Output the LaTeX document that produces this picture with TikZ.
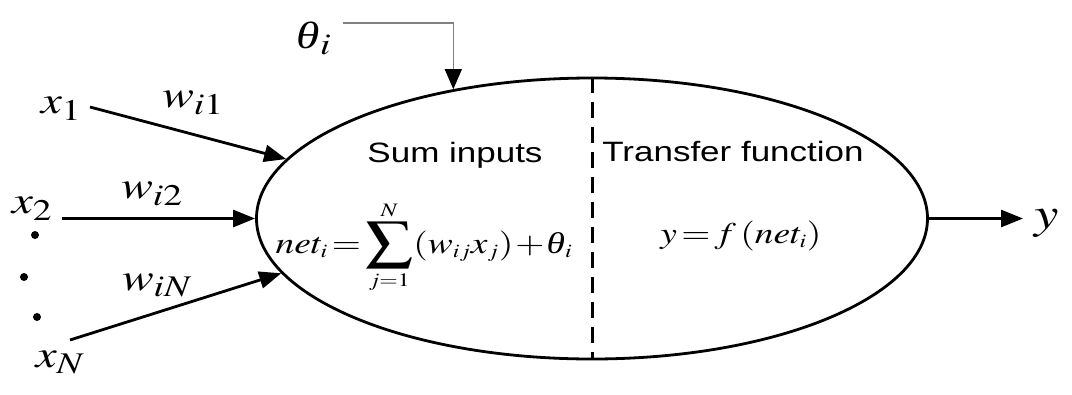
\documentclass[tikz,border=0pt]{standalone}
\usepackage{mathptmx}
\usepackage{graphicx}
\usepackage[no-math]{fontspec}
\setmainfont{Liberation Serif}
\setsansfont{Liberation Sans}
\usetikzlibrary{arrows.meta,shapes.geometric}
\DeclareMathSizes{38}{38}{30}{24}
\DeclareMathSizes{44}{44}{34}{26}
\DeclareMathSizes{30}{30}{19}{15}
\newcommand\itheta{\mbox{\itshape θ}}
\newcommand\bigsum{\mathop{\vcenter{\hbox{\scalebox{1.25}{$\displaystyle\sum$}}}}\limits}
\begin{document}
\begin{tikzpicture}[x=1pt,y=-1pt,
  lab/.style={anchor=base, xscale=1.25, inner sep=0pt, font=\fontsize{38}{42}\selectfont},
  outlab/.style={anchor=base, xscale=1.25, inner sep=0pt, font=\fontsize{44}{48}\selectfont},
  formula/.style={anchor=base, xscale=1.25, inner sep=0pt, font=\fontsize{30}{34}\selectfont},
  caption/.style={anchor=base, xscale=1.25, inner sep=0pt, font=\fontsize{28}{32}\selectfont\sffamily},
  cellshape/.style={ellipse, draw, line width=2.8pt, minimum width=671pt, minimum height=281pt, inner sep=0pt},
  divider/.style={line width=3pt, dash pattern=on 16pt off 9pt},
  wire/.style={line width=2.8pt, -{Triangle[length=22pt,width=17pt]}},
  biasline/.style={line width=1.2pt, gray, -{Triangle[length=20pt,width=17pt,color=black]}},
  dotmark/.style={circle, fill, inner sep=0pt, minimum size=8pt}]
\useasboundingbox (0,0) rectangle (1072,394);
\node[cellshape] (cell) at (592,218.5) {};
\draw[divider] (cell.north) -- (cell.south);
\node[caption] (sum) at (455,162) {Sum inputs};
\node[caption] (tf) at (733,161) {Transfer function};
\node[formula] (net) at (424,253) {$\thickmuskip=2mu \medmuskip=1mu \displaystyle net_i=\bigsum_{j=1}^{N}(w_{ij}x_j)+\itheta_i$};
\node[formula] (fy) at (741,243) {$\thickmuskip=2mu y=f\,(net_i)$};
\node[lab] (theta) at (314,48) {$\itheta_i$};
\node[lab] (x1) at (61,113) {$x_1$};
\node[lab] (x2) at (32,213) {$x_2$};
\node[lab] (xN) at (60,367) {$x_N$};
\node[lab] (w1) at (193,107) {$w_{i1}$};
\node[lab] (w2) at (152,198) {$w_{i2}$};
\node[lab] (wN) at (157,290) {$w_{iN}$};
\node[outlab] (y) at (1047,228) {$y$};
\node[dotmark] (d1) at (35,235) {};
\node[dotmark] (d2) at (24,277) {};
\node[dotmark] (d3) at (37,317) {};
\coordinate (x1s) at (90,107);
\coordinate (x2s) at (62,218.5);
\coordinate (xNs) at (70,340);
\coordinate (ts) at (343,23);
\coordinate (ye) at (1023,218.5);
\draw[wire] (x1s) -- (cell.169);
\draw[wire] (x2s) -- (cell.west);
\draw[wire] (xNs) -- (cell.190);
\draw[wire] (cell.east) -- (ye);
\draw[biasline] (ts) -| (cell.137.5);
\end{tikzpicture}
\end{document}
